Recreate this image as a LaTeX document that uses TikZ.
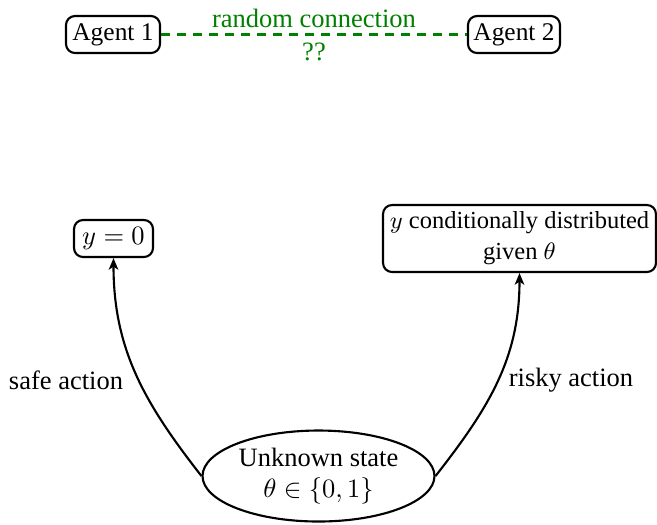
\documentclass[tikz,border=0pt]{standalone}
\usepackage{fontspec}
\setmainfont{Liberation Serif}
\usetikzlibrary{shapes.geometric,arrows.meta}
\definecolor{linkgreen}{RGB}{0,128,0}
\begin{document}
\begin{tikzpicture}[x=0.3774pt,y=-0.3774pt,
  every node/.style={font=\fontsize{10}{11.7}\selectfont},
  agentbox/.style={draw,line width=0.8pt,rounded corners=3.4pt,inner sep=0.75pt,minimum height=13.96pt,font=\fontsize{9.6}{11.7}\selectfont},
  outbox/.style={draw,line width=0.8pt,rounded corners=3.4pt,inner sep=0.75pt,align=center},
  statenode/.style={draw,ellipse,line width=0.8pt,inner sep=0pt,minimum width=87.55pt,minimum height=34.34pt,align=center},
  arc/.style={line width=0.8pt,-{Stealth[length=4.4pt,width=3.6pt,inset=1.2pt]}},
  lbl/.style={inner sep=0pt}]
\useasboundingbox (0,0) rectangle (657,524);
\node[agentbox,minimum width=35.47pt] (a1) at (113,34.5) {Agent 1};
\node[agentbox,minimum width=34.72pt] (a2) at (514,34.5) {Agent 2};
\draw[linkgreen,line width=0.8pt,dash pattern=on 3.4pt off 2.64pt] (a1) -- (a2)
  node[midway,above=2.26pt,lbl] (rc) {random connection}
  node[midway,below=2.64pt,lbl] (qq) {??};
\node[outbox,minimum width=29.8pt,minimum height=13.96pt] (safe) at (113.5,238.5) {$y=0$};
\node[outbox,minimum width=103pt,minimum height=25.28pt,font=\fontsize{9.25}{11.7}\selectfont] (risky) at (519.5,238.5) {$y$ conditionally distributed\\given $\theta$};
\node[statenode] (st) at (318.5,476) {Unknown state\\$\theta\in\{0,1\}$};
\draw[arc] (st.west) to[out=128,in=-90] (safe.south);
\draw[arc] (st.east) to[out=52,in=-90] (risky.south);
\node[lbl] (sl) at (66,380) {safe action};
\node[lbl] (rl) at (571,380) {risky action};
\end{tikzpicture}
\end{document}
